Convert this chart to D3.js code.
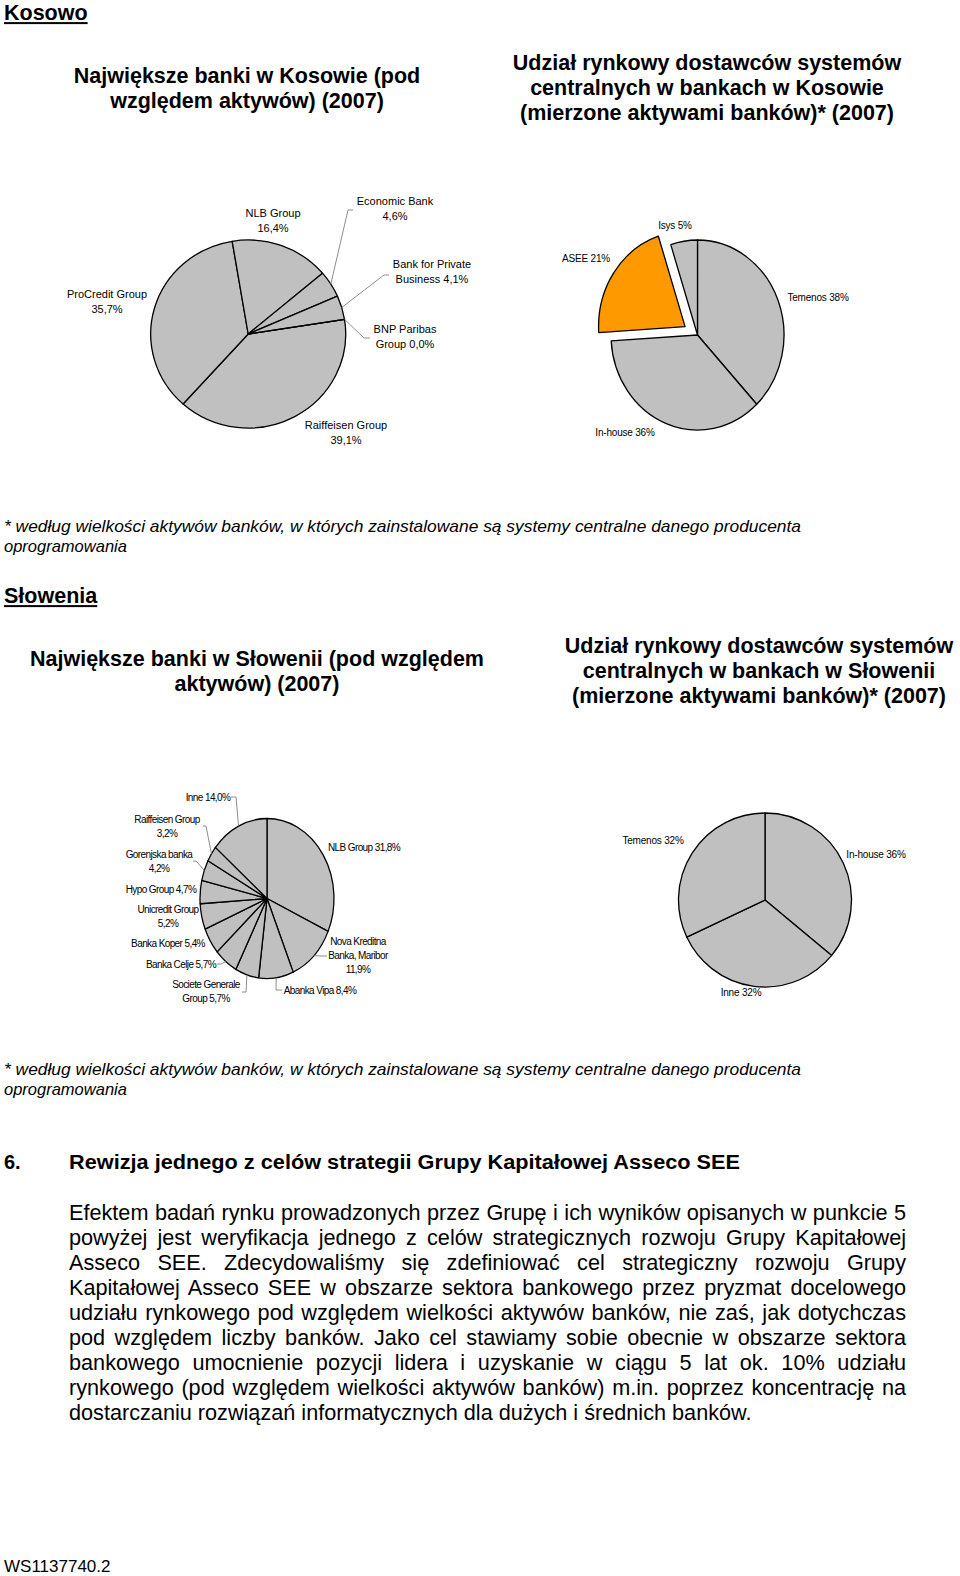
<!DOCTYPE html>
<html>
<head>
<meta charset="utf-8">
<script src="https://cdn.jsdelivr.net/npm/d3@7"></script>
<style>
  body { margin: 0; background: #fff; }
  text { font-family: "Liberation Sans", Arial, sans-serif; }
</style>
</head>
<body>
<div class="page"></div>
<script>

// data
const kosovoBanks = ["Raiffeisen Group", "ProCredit Group", "NLB Group", "Economic Bank", "Bank for Private Business", "BNP Paribas Group"];
const kosovoBankShares = [39.1, 35.7, 16.4, 4.6, 4.1, 0.0];

const kosovoVendors = ["Temenos", "In-house", "ASEE", "Isys"];
const kosovoVendorShares = [38, 36, 21, 5];

const sloveniaBanks = ["NLB Group", "Nova Kreditna Banka, Maribor", "Abanka Vipa", "Societe Generale Group", "Banka Celje",
    "Banka Koper", "Unicredit Group", "Hypo Group", "Gorenjska banka", "Raiffeisen Group", "Inne"];
const sloveniaBankShares = [31.8, 11.9, 8.4, 5.7, 5.7, 5.4, 5.2, 4.7, 4.2, 3.2, 14.0];

const sloveniaVendors = ["In-house", "Inne", "Temenos"];
const sloveniaVendorShares = [36, 32, 32];

const footnote = ["* według wielkości aktywów banków, w których zainstalowane są systemy centralne danego producenta",
    "oprogramowania"];

const paragraph = [
    "Efektem badań rynku prowadzonych przez Grupę i ich wyników opisanych w punkcie 5",
    "powyżej jest weryfikacja jednego z celów strategicznych rozwoju Grupy Kapitałowej",
    "Asseco SEE. Zdecydowaliśmy się zdefiniować cel strategiczny rozwoju Grupy",
    "Kapitałowej Asseco SEE w obszarze sektora bankowego przez pryzmat docelowego",
    "udziału rynkowego pod względem wielkości aktywów banków, nie zaś, jak dotychczas",
    "pod względem liczby banków. Jako cel stawiamy sobie obecnie w obszarze sektora",
    "bankowego umocnienie pozycji lidera i uzyskanie w ciągu 5 lat ok. 10% udziału",
    "rynkowego (pod względem wielkości aktywów banków) m.in. poprzez koncentrację na",
    "dostarczaniu rozwiązań informatycznych dla dużych i średnich banków."
];


const width = 960, height = 1576;
const svg = d3.select(".page")
    .append("svg")
    .attr("width", width)
    .attr("height", height);

svg.append("rect").attr("width", width).attr("height", height).attr("fill", "#fff");

const pct1 = v => d3.format(".1f")(v).replace(".", ",") + "%";
const pct0 = v => d3.format("d")(v) + "%";


// ellipse-shaped pie, like the stretched excel charts in the pdf
function PieChart(opts) {
    const g = svg.append("g");
    const pie = d3.pie().sort(null).value(d => d.value)
        .startAngle(opts.start).endAngle(opts.start + 2 * Math.PI);
    const arcs = pie(opts.names.map((n, i) => ({ name: n, value: opts.values[i] })));
    const arc = d3.arc().innerRadius(0).outerRadius(opts.ry);
    const sx = opts.rx / opts.ry;

    const edge = (a) => [opts.cx + opts.rx * Math.sin(a), opts.cy - opts.ry * Math.cos(a)];

    arcs.forEach((d, i) => {
        const mid = (d.startAngle + d.endAngle) / 2;
        let dx = 0, dy = 0;
        if (opts.explode && opts.explode[i]) {
            dx = opts.explode[i] * Math.sin(mid);
            dy = -opts.explode[i] * Math.cos(mid);
        }
        g.append("g")
            .attr("transform", `translate(${opts.cx + dx}, ${opts.cy + dy}) scale(${sx}, 1)`)
            .append("path")
            .attr("d", arc(d))
            .attr("fill", opts.colors ? opts.colors[i] : "#c0c0c0")
            .attr("stroke", "#000")
            .attr("stroke-width", 1.3)
            .attr("stroke-linejoin", "round")
            .attr("vector-effect", "non-scaling-stroke");
    });

    // labels
    arcs.forEach((d, i) => {
        const lay = opts.labels[i];
        const mid = (d.startAngle + d.endAngle) / 2;
        const words = (d.data.name + " " + opts.fmt(d.data.value)).split(" ");
        const lines = [];
        let k = 0;
        lay.split.forEach(n => { lines.push(words.slice(k, k + n).join(" ")); k += n; });

        if (lay.leader) {
            const p = edge(mid);
            g.append("path")
                .attr("d", d3.line()([p].concat(lay.leader)))
                .attr("fill", "none")
                .attr("stroke", "#808080")
                .attr("stroke-width", 0.9);
        }
        const t = g.append("text")
            .attr("text-anchor", "middle")
            .attr("font-size", opts.fontSize)
            .attr("letter-spacing", opts.spacing || 0)
            .attr("fill", "#000");
        lines.forEach((l, j) => {
            t.append("tspan")
                .attr("x", lay.x)
                .attr("y", lay.y + j * opts.lineH)
                .attr("dy", "0.36em")
                .text(l);
        });
    });
}


// text helpers
function heading(txt, x, y, size) {
    const t = svg.append("text").attr("x", x).attr("y", y + size * 0.36)
        .attr("font-size", size).attr("font-weight", "bold").text(txt);
    const w = t.node().getComputedTextLength();
    svg.append("rect").attr("x", x).attr("y", y + size * 0.47).attr("width", w).attr("height", 2).attr("fill", "#000");
}

function title(lines, cx, y, size) {
    lines.forEach((l, i) => {
        svg.append("text").attr("x", cx).attr("y", y + i * 25 + size * 0.36)
            .attr("text-anchor", "middle").attr("font-size", size).attr("font-weight", "bold").text(l);
    });
}

function note(y) {
    footnote.forEach((l, i) => {
        const t = svg.append("text").attr("x", 4).attr("y", y + i * 20 + 6)
            .attr("font-size", 16.5).attr("font-style", "italic").text(l);
        if (i == 0) t.attr("textLength", 797).attr("lengthAdjust", "spacingAndGlyphs");
    });
}


// Kosowo
heading("Kosowo", 4, 12, 21.5);
title(["Największe banki w Kosowie (pod", "względem aktywów) (2007)"], 247, 75, 21.5);
title(["Udział rynkowy dostawców systemów", "centralnych w bankach w Kosowie", "(mierzone aktywami banków)* (2007)"], 707, 62, 21.5);

PieChart({
    names: kosovoBanks, values: kosovoBankShares,
    cx: 248.2, cy: 334, rx: 97.5, ry: 94,
    start: 81 * Math.PI / 180,
    fmt: pct1, fontSize: 11, lineH: 15,
    labels: [
        { x: 346, y: 425, split: [2, 1] },
        { x: 107, y: 294, split: [2, 1] },
        { x: 273, y: 213, split: [2, 1] },
        { x: 395, y: 201, split: [2, 1], leader: [[348, 210], [353, 210]] },
        { x: 432, y: 264, split: [3, 2], leader: [[384, 275], [389, 275]] },
        { x: 405, y: 329, split: [2, 2], leader: [[364, 338], [370, 338]] }
    ]
});

PieChart({
    names: kosovoVendors, values: kosovoVendorShares,
    cx: 697.5, cy: 335, rx: 86.5, ry: 95,
    start: 0,
    colors: ["#c0c0c0", "#c0c0c0", "#ff9900", "#c0c0c0"],
    explode: [0, 0, 15, 0],
    fmt: pct0, fontSize: 10, lineH: 14, spacing: -0.2,
    labels: [
        { x: 818, y: 297, split: [2] },
        { x: 625, y: 432, split: [2] },
        { x: 586, y: 258, split: [2] },
        { x: 675, y: 225, split: [2] }
    ]
});

note(526);


// Słowenia
heading("Słowenia", 4, 595, 21.5);
title(["Największe banki w Słowenii (pod względem", "aktywów) (2007)"], 257, 658, 21.5);
title(["Udział rynkowy dostawców systemów", "centralnych w bankach w Słowenii", "(mierzone aktywami banków)* (2007)"], 759, 645, 21.5);

PieChart({
    names: sloveniaBanks, values: sloveniaBankShares,
    cx: 267, cy: 898.5, rx: 67, ry: 80,
    start: 0,
    fmt: pct1, fontSize: 10, lineH: 14, spacing: -0.6,
    labels: [
        { x: 364, y: 847, split: [3] },
        { x: 358, y: 941, split: [2, 2, 1], leader: [[322, 956], [327, 956]] },
        { x: 320, y: 990, split: [3], leader: [[276, 990], [282, 990]] },
        { x: 206, y: 984, split: [2, 2], leader: [[246, 992], [242, 992]] },
        { x: 181, y: 964, split: [3], leader: [[221, 964], [217, 964]] },
        { x: 168, y: 943, split: [3] },
        { x: 168, y: 909, split: [2, 1] },
        { x: 161, y: 889, split: [3] },
        { x: 159, y: 854, split: [2, 1], leader: [[196, 861], [193, 861]] },
        { x: 167, y: 819, split: [2, 1], leader: [[206, 826], [203, 826]] },
        { x: 208, y: 797, split: [2], leader: [[236, 797], [231, 797]] }
    ]
});

PieChart({
    names: sloveniaVendors, values: sloveniaVendorShares,
    cx: 765, cy: 900, rx: 86.5, ry: 87,
    start: 0,
    fmt: pct0, fontSize: 10, lineH: 14, spacing: -0.2,
    labels: [
        { x: 876, y: 854, split: [2] },
        { x: 741, y: 992, split: [2] },
        { x: 653, y: 840, split: [2] }
    ]
});

note(1069);


// section 6
svg.append("text").attr("x", 4).attr("y", 1169).attr("font-size", 20).attr("font-weight", "bold").text("6.");
svg.append("text").attr("x", 69).attr("y", 1169).attr("font-size", 20).attr("font-weight", "bold")
    .text("Rewizja jednego z celów strategii Grupy Kapitałowej Asseco SEE")
    .attr("textLength", 671).attr("lengthAdjust", "spacingAndGlyphs");

// justified paragraph, font size fitted on the last line
const probe = svg.append("text").attr("font-size", 20).text(paragraph[paragraph.length - 1]);
const fs = 20 * 683 / probe.node().getComputedTextLength();
probe.remove();

paragraph.forEach((line, i) => {
    const t = svg.append("text")
        .attr("x", 69)
        .attr("y", 1212 + i * 25 + fs * 0.36)
        .attr("font-size", fs)
        .text(line);
    if (i < paragraph.length - 1) {
        const w = t.node().getComputedTextLength();
        const spaces = line.split(" ").length - 1;
        t.attr("word-spacing", (837 - w) / spaces);
    }
});

svg.append("text").attr("x", 4).attr("y", 1572)
    .attr("font-family", "'Liberation Serif', 'Times New Roman', serif")
    .attr("font-size", 17).text("WS1137740.2");

</script>
</body>
</html>
